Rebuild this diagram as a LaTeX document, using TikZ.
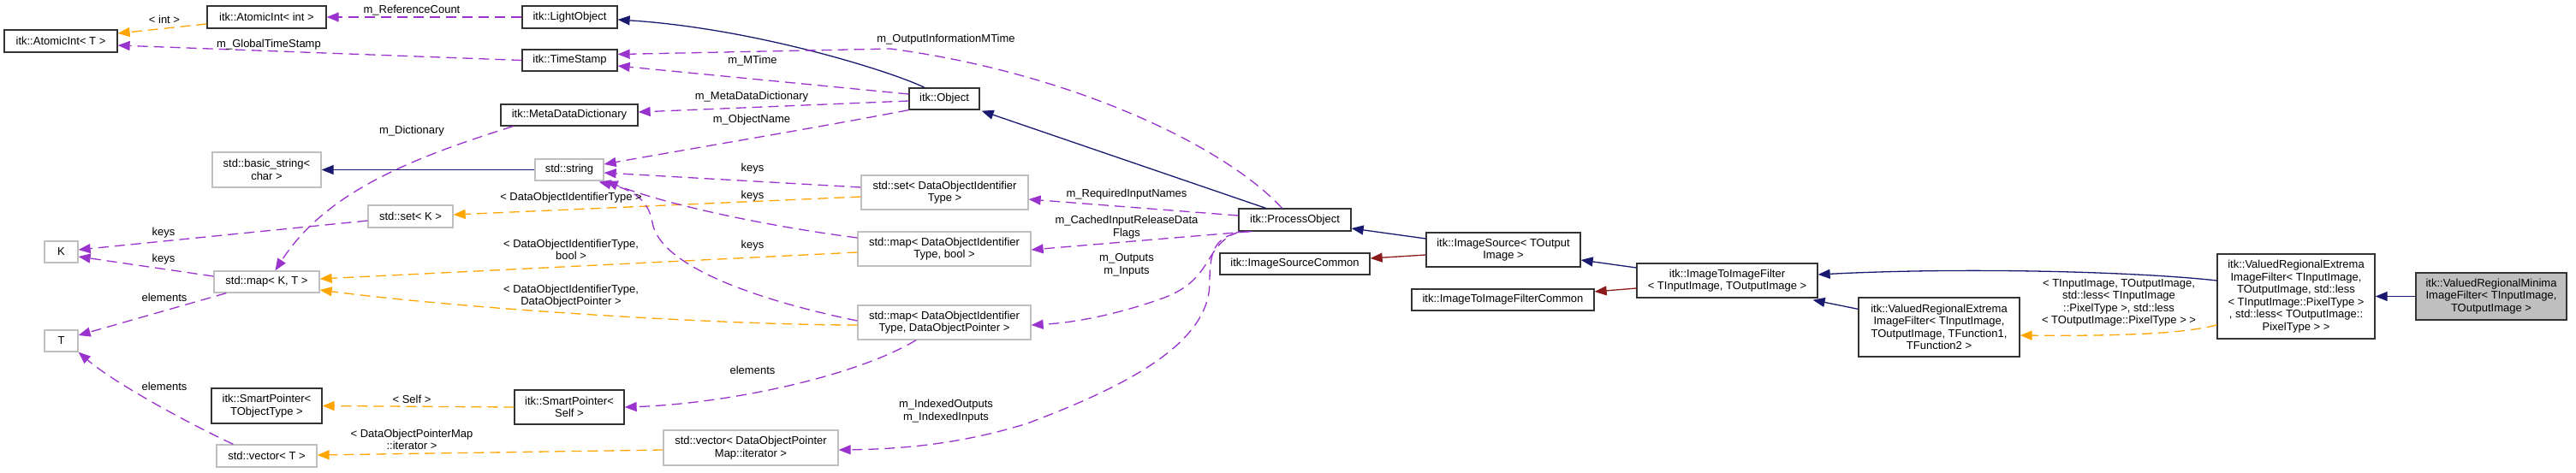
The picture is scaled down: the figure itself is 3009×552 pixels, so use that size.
\documentclass[tikz,border=0pt]{standalone}
\usepackage{fontspec}
\setmainfont{Liberation Sans}
\usetikzlibrary{arrows.meta,calc}
\definecolor{inhcol}{HTML}{191970}
\definecolor{usecol}{HTML}{9A32CD}
\definecolor{tplcol}{HTML}{FFA500}
\definecolor{prvcol}{HTML}{8B1A1A}
\definecolor{greybd}{HTML}{BFBFBF}
\newcommand\fsz{\fontsize{13pt}{14.5pt}\selectfont}
\tikzset{
  box/.style={draw=black!80, line width=1.3pt, fill=white, inner sep=0pt, align=center, font=\fsz},
  gbox/.style={box, draw=greybd},
  sz/.style 2 args={minimum width=#1pt, minimum height=#2pt},
  lbl/.style={inner sep=0pt, align=center, font=\fsz},
  tip/.style={-{Triangle[length=14pt,width=11pt]}},
  inh/.style={draw=inhcol, line width=1.3pt, tip},
  prv/.style={draw=prvcol, line width=1.3pt, tip},
  use/.style={draw=usecol, line width=1.3pt, dash pattern=on 12pt off 7pt, tip},
  tpl/.style={draw=tplcol, line width=1.3pt, dash pattern=on 12pt off 7pt, tip},
}
\begin{document}
\begin{tikzpicture}[x=1pt,y=-1pt]
\useasboundingbox (0,0) rectangle (3009,552);
% nodes
\node[box,sz={132}{26}] (atT) at (71,48) {itk::AtomicInt< T >};
\node[box,sz={139}{26}] (atInt) at (311.5,20) {itk::AtomicInt< int >};
\node[box,sz={111}{26}] (light) at (665.5,20) {itk::LightObject};
\node[box,sz={111}{25}] (ts) at (665.5,70.5) {itk::TimeStamp};
\node[box,sz={160}{25}] (mdd) at (665,134.5) {itk::MetaDataDictionary};
\node[gbox,sz={127}{41}] (bstr) at (311.5,198.5) {std::basic\_string<\\ char >};
\node[gbox,sz={80}{25}] (str) at (665,198.5) {std::string};
\node[gbox,sz={99}{26}] (setK) at (479.5,253) {std::set< K >};
\node[gbox,sz={39}{25}] (K) at (71.5,294.5) {K};
\node[gbox,sz={123}{25}] (mapKT) at (311.5,329.5) {std::map< K, T >};
\node[gbox,sz={39}{25}] (T) at (71.5,398.5) {T};
\node[box,sz={129}{41}] (spT) at (311.5,474.5) {itk::SmartPointer<\\ TObjectType >};
\node[gbox,sz={117}{26}] (vecT) at (311.5,533) {std::vector< T >};
\node[box,sz={128}{40}] (spSelf) at (665,476) {itk::SmartPointer<\\ Self >};
\node[gbox,sz={204}{41}] (vecDOP) at (877,523.5) {std::vector< DataObjectPointer\\ Map::iterator >};
\node[box,sz={82}{25}] (obj) at (1103,115.5) {itk::Object};
\node[gbox,sz={195}{40}] (setDOI) at (1103.5,225) {std::set< DataObjectIdentifier\\ Type >};
\node[gbox,sz={202}{40}] (mapBool) at (1103,291) {std::map< DataObjectIdentifier\\ Type, bool >};
\node[gbox,sz={202}{40}] (mapDOP) at (1103,377) {std::map< DataObjectIdentifier\\ Type, DataObjectPointer >};
\node[box,sz={131}{26}] (po) at (1512.5,257) {itk::ProcessObject};
\node[box,sz={175}{25}] (isc) at (1512.5,308.5) {itk::ImageSourceCommon};
\node[box,sz={180}{40}] (is) at (1756,292) {itk::ImageSource< TOutput\\ Image >};
\node[box,sz={213}{25}] (itifc) at (1755.5,350.5) {itk::ImageToImageFilterCommon};
\node[box,sz={211}{40}] (itif) at (2017.5,328) {itk::ImageToImageFilter\\ < TInputImage, TOutputImage >};
\node[box,sz={188}{69}] (vre) at (2265,382.5) {itk::ValuedRegionalExtrema\\ ImageFilter< TInputImage,\\ TOutputImage, TFunction1,\\ TFunction2 >};
\node[box,sz={184}{99}] (vreLess) at (2682,346.5) {itk::ValuedRegionalExtrema\\ ImageFilter< TInputImage,\\ TOutputImage, std::less\\ < TInputImage::PixelType >\\ , std::less< TOutputImage::\\ PixelType > >};
\node[box,sz={176}{55},fill=greybd] (vrm) at (2910,346.5) {itk::ValuedRegionalMinima\\ ImageFilter< TInputImage,\\ TOutputImage >};
% connectors
\draw[tpl] ($(atInt.west)+(0,8)$) -- ($(atT.east)+(0,-9)$);
\draw[use] (ts.west) -- ($(atT.east)+(0,5)$);
\draw[use] (light.west) -- (atInt.east);
\draw[inh] ($(obj.north)+(-23,0)$) .. controls (1040,83) and (880,33) .. ($(light.east)+(0,3)$);
\draw[inh] ($(po.north)+(-34,0)$) -- ($(obj.south east)+(2,1)$);
\draw[use] ($(po.north)+(-15,0)$) .. controls (1430,170) and (1250,85) .. (1040,57) -- ($(ts.east)+(0,-7)$);
\draw[use] ($(obj.west)+(0,-5.5)$) -- ($(ts.east)+(0,6.5)$);
\draw[use] ($(obj.west)+(0,2.5)$) -- ($(mdd.east)+(0,-3.5)$);
\draw[use] (obj.south west) .. controls (950,150) and (800,175) .. ($(str.east)+(0,-6.5)$);
\draw[use] ($(mdd.south west)+(15,0)$) .. controls (480,185) and (380,225) .. ($(mapKT.north)+(10,0)$);
\draw[inh] (str.west) -- (bstr.east);
\draw[use] ($(setDOI.west)+(0,-6)$) -- ($(str.east)+(0,3.5)$);
\draw[tpl] ($(setDOI.west)+(0,5)$) -- ($(setK.east)+(0,-2)$);
\draw[use] ($(mapBool.west)+(0,-13)$) .. controls (900,265) and (780,240) .. ($(str.south east)+(2,0)$);
\draw[tpl] ($(mapBool.west)+(0,4)$) -- ($(mapKT.east)+(0,-3.5)$);
\draw[use] ($(mapDOP.west)+(0,-2)$) .. controls (880,350) and (770,310) .. (762,260) .. controls (758,235) and (740,222) .. ($(str.south east)+(-6,1)$);
\draw[tpl] ($(mapDOP.west)+(0,3)$) .. controls (850,380) and (550,362) .. ($(mapKT.east)+(0,9.5)$);
\draw[use] ($(mapKT.west)+(0,-6.5)$) -- ($(K.east)+(0,5.5)$);
\draw[use] ($(setK.west)+(0,5)$) -- ($(K.east)+(0,-2.5)$);
\draw[use] ($(mapKT.south west)+(15,0)$) -- ($(T.east)+(0,-6.5)$);
\draw[use] ($(vecT.north west)+(20,0)$) .. controls (210,490) and (130,445) .. (T.south east);
\draw[tpl] (spSelf.west) -- (spT.east);
\draw[tpl] ($(vecDOP.west)+(0,2.5)$) -- ($(vecT.east)+(0,-1)$);
\draw[use] ($(mapDOP.south)+(-33,0)$) .. controls (1000,440) and (850,472) .. (spSelf.east);
\draw[use] ($(po.west)+(0,-5)$) -- ($(setDOI.east)+(0,8)$);
\draw[use] ($(po.south west)+(13,0)$) -- ($(mapBool.east)+(0,1)$);
\draw[use] ($(po.south west)+(2,0)$) .. controls (1405,285) and (1420,325) .. (1360,348) .. controls (1310,366) and (1260,377) .. ($(mapDOP.east)+(0,3)$);
\draw[use] ($(po.south west)+(16,0)$) .. controls (1420,272) and (1413,290) .. (1413,330) .. controls (1413,400) and (1320,450) .. (1200,495) .. controls (1120,520) and (1050,525) .. ($(vecDOP.east)+(0,2.5)$);
\draw[inh] ($(is.west)+(0,-13)$) -- ($(po.east)+(0,10)$);
\draw[prv] ($(is.west)+(0,6)$) -- ($(isc.east)+(0,-6.5)$);
\draw[inh] ($(itif.west)+(0,-15)$) -- ($(is.east)+(0,12)$);
\draw[prv] ($(itif.west)+(0,9)$) -- ($(itifc.east)+(0,-9.5)$);
\draw[inh] ($(vre.north west)+(0,14)$) -- ($(itif.south east)+(-6,2)$);
\draw[inh] ($(vreLess.west)+(0,-18.5)$) .. controls (2500,318) and (2300,312) .. ($(itif.east)+(0,-7)$);
\draw[tpl] ($(vreLess.west)+(0,33.5)$) .. controls (2550,390) and (2480,393) .. ($(vre.east)+(0,9.5)$);
\draw[inh] (vrm.west) -- (vreLess.east);
% labels
\node[lbl] (l1) at (192,23) {< int >};
\node[lbl] (l2) at (314,52) {m\_GlobalTimeStamp};
\node[lbl] (l3) at (481,12) {m\_ReferenceCount};
\node[lbl] (l4) at (1105,46) {m\_OutputInformationMTime};
\node[lbl] (l5) at (879,71) {m\_MTime};
\node[lbl] (l6) at (878,113) {m\_MetaDataDictionary};
\node[lbl] (l7) at (878,140) {m\_ObjectName};
\node[lbl] (l8) at (481,153) {m\_Dictionary};
\node[lbl] (l9) at (879,197) {keys};
\node[lbl] (l10) at (879,229) {keys};
\node[lbl] (l11) at (667,231) {< DataObjectIdentifierType >};
\node[lbl] (l12) at (191,272) {keys};
\node[lbl] (l13) at (191,303) {keys};
\node[lbl] (l14) at (667,292) {< DataObjectIdentifierType,\\ bool >};
\node[lbl] (l15) at (879,287) {keys};
\node[lbl] (l16) at (667,346) {< DataObjectIdentifierType,\\ DataObjectPointer >};
\node[lbl] (l17) at (192,348) {elements};
\node[lbl] (l18) at (879,433) {elements};
\node[lbl] (l19) at (192,452) {elements};
\node[lbl] (l20) at (481,467) {< Self >};
\node[lbl] (l21) at (481,514) {< DataObjectPointerMap\\ ::iterator >};
\node[lbl] (l22) at (1316,227) {m\_RequiredInputNames};
\node[lbl] (l23) at (1316,265.5) {m\_CachedInputReleaseData\\ Flags};
\node[lbl] (l24) at (1316,310) {m\_Outputs\\ m\_Inputs};
\node[lbl] (l25) at (1105,480.5) {m\_IndexedOutputs\\ m\_IndexedInputs};
\node[lbl] (l26) at (2475,354) {< TInputImage, TOutputImage,\\ std::less< TInputImage\\ ::PixelType >, std::less\\ < TOutputImage::PixelType > >};
\end{tikzpicture}
\end{document}
